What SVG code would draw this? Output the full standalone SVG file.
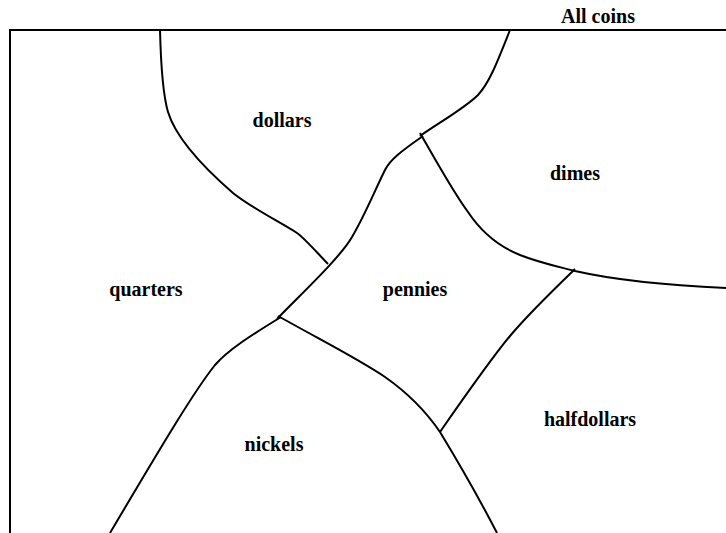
<svg xmlns="http://www.w3.org/2000/svg" width="726" height="533" viewBox="0 0 726 533">
<style>
.b{fill:none;stroke:#000;stroke-width:2}
text{font-family:"Liberation Serif","Times New Roman",serif;font-weight:bold;font-size:20px;fill:#000;text-anchor:middle}
</style>
<rect width="726" height="533" fill="#fff"/>
<g id="allcoins">
<path class="b" d="M10,533 L10,30 L726,30"/>
<text x="598" y="23">All coins</text>
</g>
<g id="dollars"><text x="282" y="127">dollars</text></g>
<g id="dimes"><text x="575" y="180">dimes</text></g>
<g id="quarters"><text x="146" y="296">quarters</text></g>
<g id="pennies"><text x="415" y="296">pennies</text></g>
<g id="nickels"><text x="274" y="451">nickels</text></g>
<g id="halfdollars"><text x="590" y="426">halfdollars</text></g>
<g id="boundaries">
<path class="b" d="M160,30 C161,70 163,95 168,112 C175,135 195,160 233,193 C250,207 280,222 297,233 C303,237 310,245 328,264"/>
<path class="b" d="M510,30 C498,60 490,82 478,95 C465,108 440,122 420,136"/>
<path class="b" d="M423,136 C400,152 390,160 385,170 C375,190 365,215 352,237 C340,258 300,295 277,319"/>
<path class="b" d="M281,317 C250,336 228,350 215,365 C195,390 165,440 110,533"/>
<path class="b" d="M420,133 C440,168 455,195 468,212 C480,230 495,245 520,255 C540,263 560,267 575,271 C610,279 660,285 726,288"/>
<path class="b" d="M575,269 C545,298 525,318 510,336 C495,354 465,396 440,432"/>
<path class="b" d="M278,316 C330,345 360,360 385,377 C405,391 425,410 440,432 C460,465 480,500 497,533"/>
</g>
</svg>
